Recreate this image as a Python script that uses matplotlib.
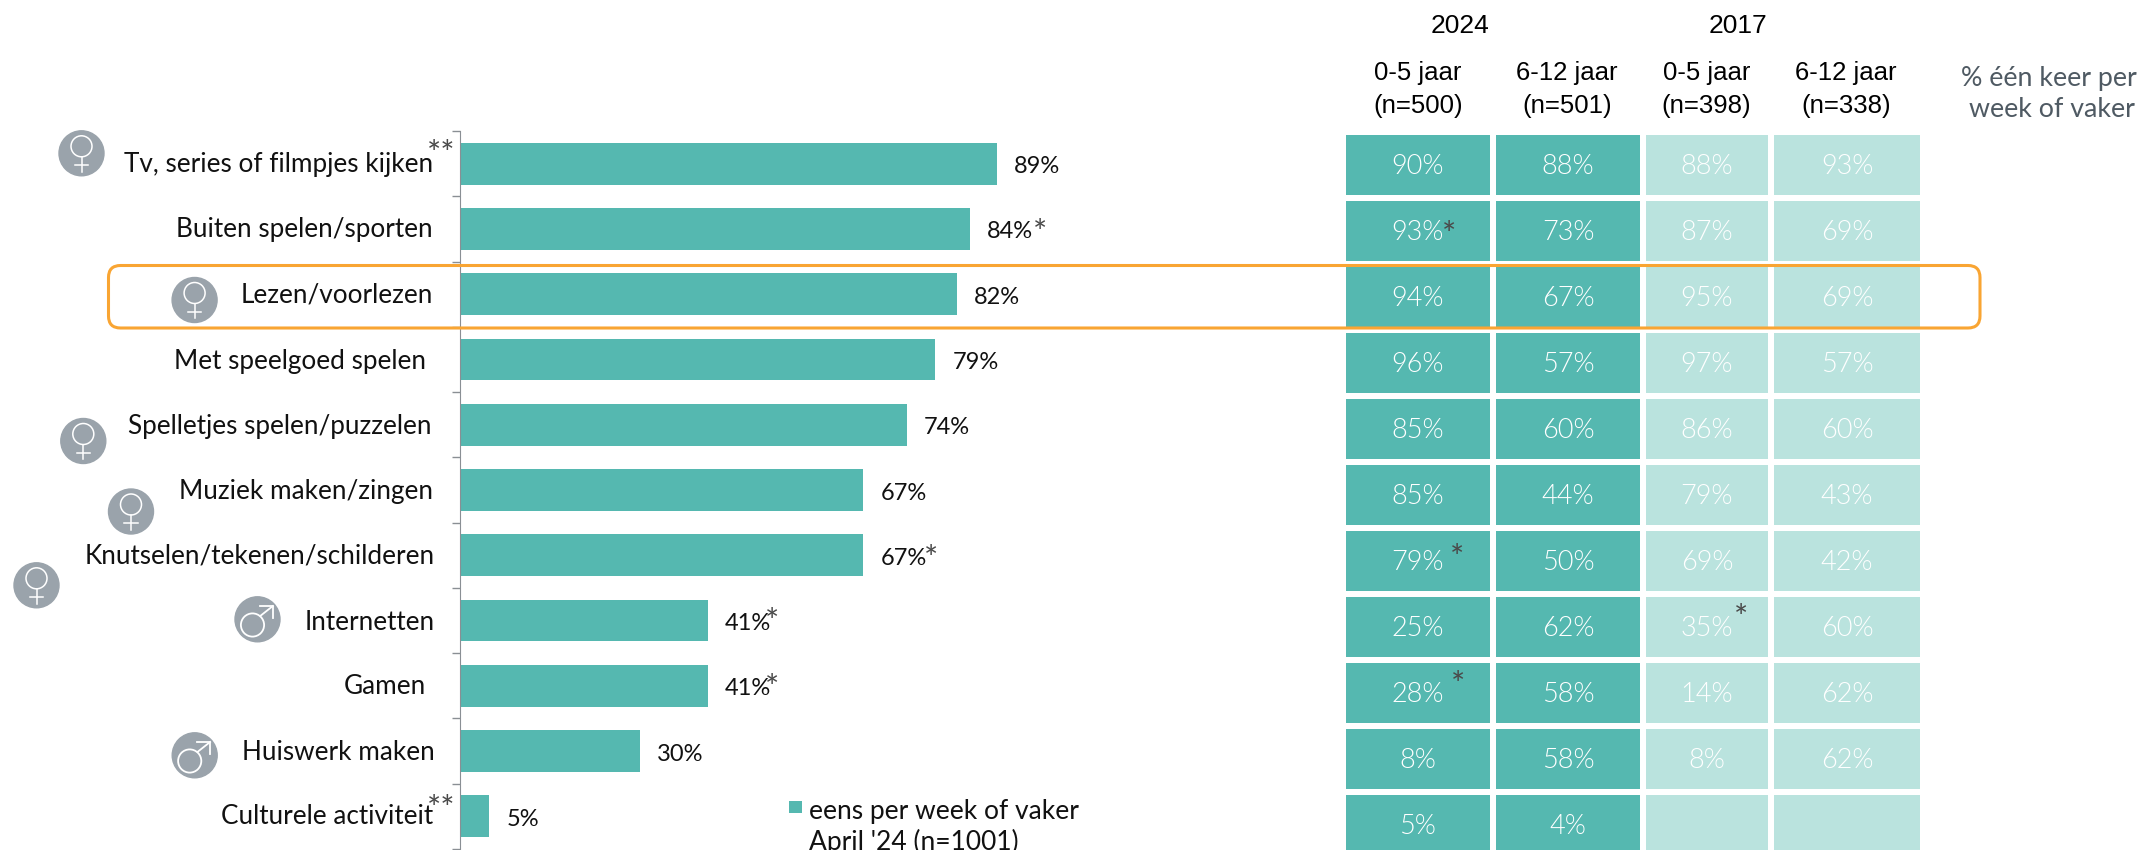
import matplotlib
matplotlib.use('Agg')
import matplotlib.pyplot as plt
from matplotlib import font_manager as fm
from matplotlib.patches import Circle, FancyBboxPatch

# Data
categories = ['Tv, series of filmpjes kijken', 'Buiten spelen/sporten', 'Lezen/voorlezen',
              'Met speelgoed spelen', 'Spelletjes spelen/puzzelen', 'Muziek maken/zingen',
              'Knutselen/tekenen/schilderen', 'Internetten', 'Gamen', 'Huiswerk maken',
              'Culturele activiteit']
total = [89.0, 84.5, 82.4, 78.8, 74.1, 66.9, 66.9, 41.1, 41.1, 29.8, 4.8]
total_labels = ['89%', '84%', '82%', '79%', '74%', '67%', '67%', '41%', '41%', '30%', '5%']
young_2024 = ['90%', '93%', '94%', '96%', '85%', '85%', '79%', '25%', '28%', '8%', '5%']
old_2024 = ['88%', '73%', '67%', '57%', '60%', '44%', '50%', '62%', '58%', '58%', '4%']
young_2017 = ['88%', '87%', '95%', '97%', '86%', '79%', '69%', '35%', '14%', '8%', '']
old_2017 = ['93%', '69%', '69%', '57%', '60%', '43%', '42%', '60%', '62%', '62%', '']
col_heads = ['0-5 jaar\n(n=500)', '6-12 jaar\n(n=501)', '0-5 jaar\n(n=398)', '6-12 jaar\n(n=338)']

TEAL = '#55b8b0'
LIGHT = '#bae3de'
GREY = '#9aa3ab'
ORANGE = '#f9a533'
STAR = '#4a4a4a'
W, H = 2141, 850

fig = plt.figure(figsize=(W / 100, H / 100), dpi=100)

# thin face for the numbers in the cells, if the file is there
light_files = [f for f in fm.findSystemFonts() if 'Lato-Light.' in f]
if light_files:
    cell_font = fm.FontProperties(fname=light_files[0], size=19.5)
else:
    cell_font = fm.FontProperties(family='Lato', size=19.5)


def px_axes(left, top, right, bottom):
    return fig.add_axes([left / W, 1 - bottom / H, (right - left) / W, (bottom - top) / H])


# bar chart on the left
ax = px_axes(460, 131, 1360, 849)
rows = list(range(len(categories)))
ax.barh(rows, total, height=0.64, color=TEAL)
ax.set_xlim(0, 900 / 6.03)
ax.set_ylim(len(categories) - 0.5, -0.5)
ax.set_xticks([])
ax.set_yticks([r - 0.5 for r in rows] + [len(categories) - 0.5], labels=[])
ax.tick_params(axis='y', length=6, width=1, color='#8a8f94')
for side in ['top', 'right', 'bottom']:
    ax.spines[side].set_visible(False)
ax.spines['left'].set_color('#8a8f94')
ax.patch.set_alpha(0)
for r, v, s in zip(rows, total, total_labels):
    ax.annotate(s, (v, r), xytext=(12.5, -2.2), textcoords='offset points', va='center',
                fontsize=17, family='Lato', color='#111111')

# everything else sits on an axes in picture pixels
table = px_axes(0, 0, W, H)
table.set_xlim(0, W)
table.set_ylim(H, 0)
table.axis('off')
table.patch.set_alpha(0)
col_left = [1345.5, 1496, 1646, 1774]
col_width = [144, 144, 122, 146]
col_text = [young_2024, old_2024, young_2017, old_2017]
col_color = [TEAL, TEAL, LIGHT, LIGHT]
row_top = [135 + 66 * r for r in rows]
for left, width, texts, color in zip(col_left, col_width, col_text, col_color):
    table.barh([t + 29.75 for t in row_top], [width] * len(rows), height=59.5, left=left, color=color)
    for t, s in zip(row_top, texts):
        table.text(left + width / 2, t + 31, s, ha='center', va='center', color='white',
                   fontproperties=cell_font)

# headers
for x, s in zip([1459.6, 1737.5], ['2024', '2017']):
    table.text(x, 26, s, ha='center', va='center', fontsize=19, family='Liberation Sans')
for x, s in zip([1418, 1567, 1706.6, 1846], col_heads):
    l1, l2 = s.split('\n')
    table.text(x, 72.5, l1, ha='center', va='center', fontsize=18.5, family='Liberation Sans')
    table.text(x, 105.5, l2, ha='center', va='center', fontsize=18.5, family='Liberation Sans')
table.text(2049, 78, '% één keer per', ha='center', va='center', fontsize=19.3, family='Lato', color='#4f5a63')
table.text(2052, 109, 'week of vaker', ha='center', va='center', fontsize=19.3, family='Lato', color='#4f5a63')

# category labels
label_right = [433, 433, 433, 426, 432, 433, 435, 435, 426, 435, 433]
label_y = [163, 228, 294, 360, 425, 490, 555, 621, 686, 751, 816]
for s, x, y in zip(categories, label_right, label_y):
    table.text(x, y + 1, s, ha='right', va='center', fontsize=18.8, family='Lato', color='#111111')

# asterisks
stars = [(441, 146.7, '**'), (441, 801.7, '**'), (1040, 225, '*'), (931, 551.5, '*'),
         (772.5, 614, '*'), (772.5, 681, '*'), (1449, 227.7, '*'), (1457, 550, '*'),
         (1741, 610.7, '*'), (1458.5, 677.7, '*')]
for x, y, s in stars:
    table.text(x, y + 8.5, s, ha='center', va='center', fontsize=24, family='Lato', color=STAR)


def icon(cx, cy, female):
    table.add_patch(Circle((cx, cy), 22.5, color=GREY, zorder=3))
    if female:
        table.add_patch(Circle((cx, cy - 7), 10.5, fill=False, ec='white', lw=1.1, zorder=4))
        table.plot([cx, cx], [cy + 3.5, cy + 18.4], color='white', lw=1.1, zorder=4)
        table.plot([cx - 6.7, cx + 6.7], [cy + 11.7, cy + 11.7], color='white', lw=1.1, zorder=4)
    else:
        table.add_patch(Circle((cx - 5, cy + 5.7), 11.6, fill=False, ec='white', lw=1.3, zorder=4))
        table.plot([cx + 2.7, cx + 15.4], [cy - 3.3, cy - 13.3], color='white', lw=1.3, zorder=4)
        table.plot([cx + 2.7, cx + 15.4, cx + 15.4], [cy - 13.3, cy - 13.3, cy - 1.3],
                   color='white', lw=1.3, zorder=4)


for cx, cy, female in [(81.5, 153.3, True), (194.6, 300, True), (83.3, 441, True), (131, 511.5, True),
                       (36.5, 585.3, True), (257.5, 619.3, False), (194.7, 755.3, False)]:
    icon(cx, cy, female)

# orange highlight
table.add_patch(FancyBboxPatch((108.5, 265.5), 1871.5, 62.5, boxstyle='round,pad=0,rounding_size=12',
                               fill=False, ec=ORANGE, lw=2.2, zorder=5))

# legend
table.barh(806.7, 13, height=12, left=789, color=TEAL)
table.text(809, 811, 'eens per week of vaker', va='center', fontsize=19, family='Lato', color='#111111')
table.text(809, 842, "April '24 (n=1001)", va='center', fontsize=19, family='Lato', color='#111111')

fig.savefig('out.png', dpi=100)
